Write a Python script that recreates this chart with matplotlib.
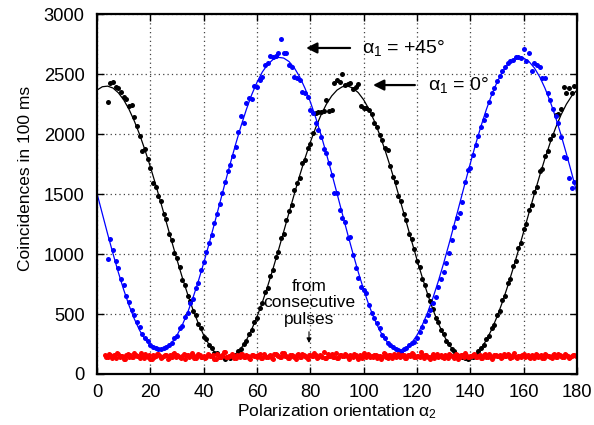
import matplotlib
matplotlib.use('Agg')
import matplotlib.pyplot as plt
import numpy as np

plt.rcParams['font.family'] = ['Liberation Sans', 'DejaVu Sans']
plt.rcParams['mathtext.fontset'] = 'custom'
plt.rcParams['mathtext.rm'] = 'Liberation Sans'
plt.rcParams['mathtext.it'] = 'Liberation Sans'
plt.rcParams['font.size'] = 12.5

# measured points, one per degree from 4 to 179
x_data = list(range(4, 180))

black_pts = [
    2267, 2424, 2430, 2388, 2380, 2352, 2308, 2292, 2236, 2240,
    2139, 2067, 1983, 1860, 1872, 1790, 1719, 1590, 1561, 1480,
    1445, 1330, 1290, 1165, 1120, 1010, 968, 890, 782, 745,
    650, 612, 522, 490, 418, 380, 312, 295, 238, 220,
    178, 172, 140, 150, 126, 138, 130, 155, 160, 195,
    205, 252, 276, 335, 365, 430, 468, 548, 590, 680,
    720, 815, 870, 975, 1015, 1130, 1170, 1285, 1360, 1410,
    1530, 1590, 1635, 1760, 1780, 1880, 1915, 2010, 2175, 2180,
    2185, 2190, 2280, 2195, 2200, 2425, 2450, 2430, 2500, 2410,
    2418, 2428, 2372, 2395, 2417, 2230, 2220, 2215, 2200, 2165,
    2090, 2061, 1990, 1950, 1883, 1867, 1735, 1640, 1600, 1485,
    1440, 1330, 1280, 1170, 1125, 1040, 945, 895, 790, 745,
    655, 610, 540, 468, 430, 365, 332, 275, 250, 205,
    192, 158, 152, 140, 135, 128, 142, 140, 160, 188,
    218, 238, 295, 318, 385, 410, 495, 528, 620, 650,
    755, 790, 900, 940, 1050, 1095, 1210, 1250, 1370, 1405,
    1520, 1560, 1690, 1705, 1815, 1855, 1960, 1990, 2160, 2165,
    2210, 2390, 2345, 2380, 2345, 2400,
]

blue_pts = [
    958, 1122, 1033, 940, 881, 790, 740, 650, 600, 530,
    492, 430, 390, 335, 300, 275, 245, 225, 215, 212,
    205, 214, 228, 242, 256, 297, 318, 381, 402, 478,
    510, 590, 625, 720, 756, 867, 936, 1019, 1089, 1158,
    1260, 1330, 1420, 1510, 1600, 1690, 1745, 1817, 1894, 2019,
    2150, 2089, 2261, 2297, 2289, 2400, 2394, 2450, 2478, 2575,
    2589, 2650, 2644, 2650, 2672, 2789, 2672, 2678, 2575, 2556,
    2478, 2464, 2450, 2353, 2339, 2311, 2200, 2172, 2089, 2033,
    1972, 1872, 1839, 1756, 1658, 1511, 1506, 1367, 1297, 1269,
    1131, 1139, 992, 881, 800, 728, 700, 672, 575, 506,
    470, 422, 380, 325, 297, 262, 240, 228, 205, 200,
    186, 206, 220, 240, 256, 269, 297, 353, 395, 440,
    490, 533, 589, 644, 728, 790, 850, 922, 1011, 1117,
    1228, 1300, 1339, 1436, 1603, 1700, 1720, 1825, 1908, 1983,
    2060, 2117, 2158, 2269, 2339, 2381, 2444, 2480, 2525, 2560,
    2589, 2611, 2617, 2644, 2639, 2631, 2708, 2611, 2672, 2528,
    2589, 2575, 2556, 2464, 2464, 2339, 2283, 2206, 2150, 2089,
    1978, 1811, 1797, 1631, 1547, 1600,
]

# coincidences from consecutive pulses, two readings per degree
x_red = list(range(3, 180))
red_pts = [
    155, 140, 162, 148, 135, 170, 152, 128, 160, 145, 138, 175, 150, 132, 158, 165, 142, 127, 155, 148,
    168, 136, 150, 160, 130, 145, 172, 155, 140, 150, 125, 162, 148, 158, 135, 170, 145, 152, 138, 160,
    150, 128, 165, 142, 155, 180, 138, 150, 160, 132, 148, 170, 145, 155, 130, 162, 150, 140, 168, 135,
    152, 145, 158, 128, 165, 150, 140, 175, 148, 132, 160, 145, 155, 138, 170, 150, 125, 162, 148, 158,
    140, 152, 185, 135, 150, 165, 142, 130, 158, 148, 170, 138, 155, 145, 160, 128, 150, 172, 140, 155,
    148, 162, 135, 150, 145, 168, 132, 158, 150, 140, 165, 148, 155, 130, 160, 175, 142, 150, 138, 162,
    155, 145, 128, 168, 150, 140, 158, 135, 152, 165, 148, 130, 160, 145, 155, 172, 138, 150, 162, 142,
    150, 135, 158, 145, 170, 128, 155, 148, 162, 140, 150, 165, 132, 158, 145, 152, 138, 168, 150, 142,
    160, 135, 155, 148, 130, 165, 150, 142, 158, 138, 170, 152, 145, 160, 135, 148, 155,
]
x_red2 = [v + 0.5 for v in x_red]
red_pts2 = [
    145, 165, 130, 158, 172, 140, 150, 125, 168, 155, 138, 160, 148, 178, 135, 152, 162, 128, 145, 170,
    150, 138, 160, 125, 155, 168, 142, 150, 132, 165, 158, 140, 175, 130, 150, 162, 145, 135, 170, 148,
    155, 128, 160, 142, 185, 138, 152, 165, 130, 158, 145, 170, 140, 150, 125, 162, 148, 158, 135, 168,
    145, 152, 130, 165, 155, 140, 172, 148, 135, 160, 150, 128, 168, 142, 155, 138, 162, 150, 175, 132,
    158, 145, 130, 165, 150, 140, 178, 135, 155, 148, 162, 125, 150, 168, 140, 158, 132, 150, 165, 145,
    138, 160, 150, 128, 172, 145, 155, 135, 168, 150, 142, 160, 130, 155, 148, 165, 138, 150, 180, 135,
    160, 145, 152, 130, 168, 150, 140, 162, 135, 155, 148, 170, 128, 158, 145, 160, 138, 150, 165, 142,
    155, 132, 168, 145, 150, 138, 160, 152, 130, 165, 148, 155, 140, 172, 135, 150, 162, 145, 158, 130,
    150, 168, 140, 155, 135, 160, 148, 130, 165, 145, 155, 138, 170, 150, 142, 160, 148,
]

# fitted curves read every 2 degrees
x_fit = list(range(0, 181, 2))
black_fit = [
    2366, 2394, 2399, 2383, 2344, 2285, 2206, 2108, 1995, 1866,
    1727, 1578, 1423, 1265, 1107, 952, 803, 664, 535, 422,
    324, 245, 186, 147, 131, 136, 164, 213, 282, 371,
    477, 598, 732, 877, 1029, 1186, 1344, 1501, 1653, 1798,
    1932, 2053, 2159, 2248, 2317, 2366, 2394, 2399, 2383, 2344,
    2285, 2206, 2108, 1995, 1866, 1727, 1578, 1423, 1265, 1107,
    952, 803, 664, 535, 422, 324, 245, 186, 147, 131,
    136, 164, 213, 282, 371, 477, 598, 732, 877, 1029,
    1186, 1344, 1501, 1653, 1798, 1932, 2053, 2159, 2248, 2317,
    2366,
]
blue_fit = [
    1505, 1335, 1166, 1003, 847, 703, 572, 459, 363, 289,
    236, 207, 201, 219, 260, 323, 409, 513, 636, 774,
    924, 1084, 1250, 1420, 1590, 1756, 1916, 2066, 2204, 2327,
    2431, 2517, 2580, 2621, 2639, 2633, 2604, 2551, 2477, 2381,
    2268, 2137, 1993, 1837, 1674, 1505, 1335, 1166, 1003, 847,
    703, 572, 459, 363, 289, 236, 207, 201, 219, 260,
    323, 409, 513, 636, 774, 924, 1084, 1250, 1420, 1590,
    1756, 1916, 2066, 2204, 2327, 2431, 2517, 2580, 2621, 2639,
    2633, 2604, 2551, 2477, 2381, 2268, 2137, 1993, 1837, 1674,
    1505,
]

fig = plt.figure(figsize=(5.94, 4.25), dpi=100)
ax = fig.add_axes([0.1633, 0.12, 0.8081, 0.847])

ax.plot(x_fit, black_fit, color='black', lw=0.9)
ax.plot(x_fit, blue_fit, color='#0000ff', lw=0.9)
ax.plot(x_data, black_pts, 'o', color='black', ms=3.6, mew=0)
ax.plot(x_data, blue_pts, 'o', color='#0000ff', ms=3.6, mew=0)
ax.plot(x_red, red_pts, 'o', color='#ff0000', ms=3.6, mew=0)
ax.plot(x_red2, red_pts2, 'o', color='#ff0000', ms=3.6, mew=0)

ax.set_xlim(0, 180)
ax.set_ylim(0, 3000)
ax.set_xticks(range(0, 181, 20))
ax.set_yticks(range(0, 3001, 500))
ax.grid(True, linestyle=(0, (1, 2.5)), color='#444444', lw=0.9)
ax.tick_params(direction='in', length=5, width=1, top=True, right=True, labelsize=13.2)
ax.tick_params(axis='x', pad=7)
ax.tick_params(axis='y', pad=9)
for s in ax.spines.values():
    s.set_linewidth(1.6)

ax.set_xlabel(r'Polarization orientation $\alpha_2$', labelpad=1)
ax.set_ylabel('Coincidences in 100 ms')
ax.yaxis.set_label_coords(-0.133, 0.544)

arr = dict(arrowstyle='-|>', color='black', lw=1.6, mutation_scale=16, shrinkA=0, shrinkB=0)
ax.annotate('', xy=(78.4, 2717), xytext=(94.9, 2717), arrowprops=arr)
ax.text(99.4, 2717, r'$\alpha_1$ = +45°', va='center', ha='left', fontsize=14)
ax.annotate('', xy=(103.5, 2408), xytext=(119.2, 2408), arrowprops=arr)
ax.text(124.1, 2408, r'$\alpha_1$ = 0°', va='center', ha='left', fontsize=14)

ax.text(79.5, 592, 'from\nconsecutive\npulses', ha='center', va='center', linespacing=1.1)
ax.annotate('', xy=(79.5, 258), xytext=(79.5, 352),
            arrowprops=dict(arrowstyle='-|>', color='black', lw=0.8, mutation_scale=7, shrinkA=0, shrinkB=0))

fig.savefig('out.png', dpi=100)
